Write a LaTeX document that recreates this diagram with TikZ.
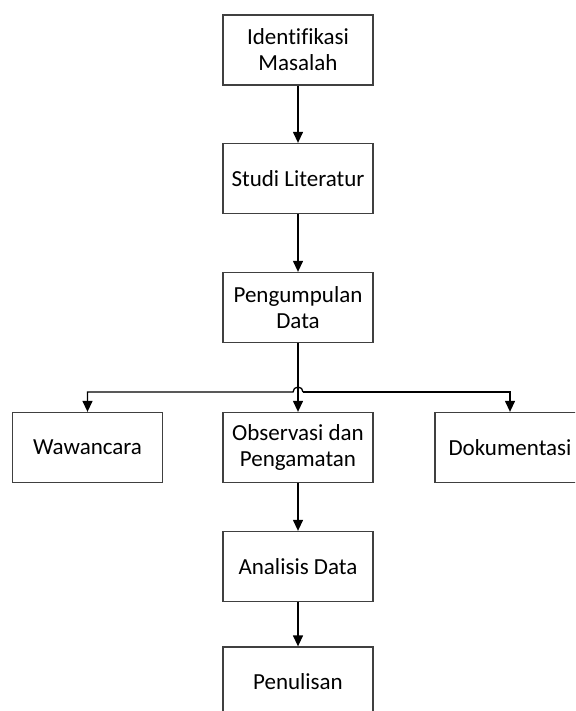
\documentclass[tikz,border=0pt]{standalone}
\usepackage{fontspec}
\setmainfont[Ligatures=NoCommon]{Carlito}
\usetikzlibrary{arrows.meta}

\tikzset{
	kotak/.style={draw=black!75, line width=1.3pt, minimum width=150pt, minimum height=70pt,
		inner sep=0pt, align=center, font=\fontsize{23}{26}\selectfont},
	panah/.style={line width=1.3pt, -{Triangle[width=10pt,length=11pt]}},
}

\begin{document}
\begin{tikzpicture}[x=1pt,y=-1pt]
	\clip (0,0) rectangle (575,711);
	
	\node[kotak] (ident) at (298,50) {Identifikasi\\Masalah};
	\node[kotak] (studi) at (298,178.5) {Studi Literatur};
	\node[kotak] (kumpul) at (298,307.5) {Pengumpulan\\Data};
	\node[kotak] (wawan) at (87.5,447.5) {Wawancara};
	\node[kotak] (obs) at (298,447.5) {Observasi dan\\Pengamatan};
	\node[kotak] (doku) at (510,447.5) {Dokumentasi};
	\node[kotak] (analisis) at (298,566.5) {Analisis Data};
	\node[kotak] (tulis) at (298,682) {Penulisan};
	
	\draw[panah] (ident) -- (studi);
	\draw[panah] (studi) -- (kumpul);
	\draw[panah] (kumpul) -- (obs);
	
	% cabang ke tiga metode
	\coordinate (cabang) at (298,392);
	\coordinate (cabangR) at ([xshift=5pt]cabang);
	\draw[panah] (cabangR) arc[start angle=0, end angle=180, radius=5pt] -| (wawan);
	\draw[panah] (cabangR) -| (doku);
	
	\draw[panah] (obs) -- (analisis);
	\draw[panah] (analisis) -- (tulis);
\end{tikzpicture}
\end{document}
